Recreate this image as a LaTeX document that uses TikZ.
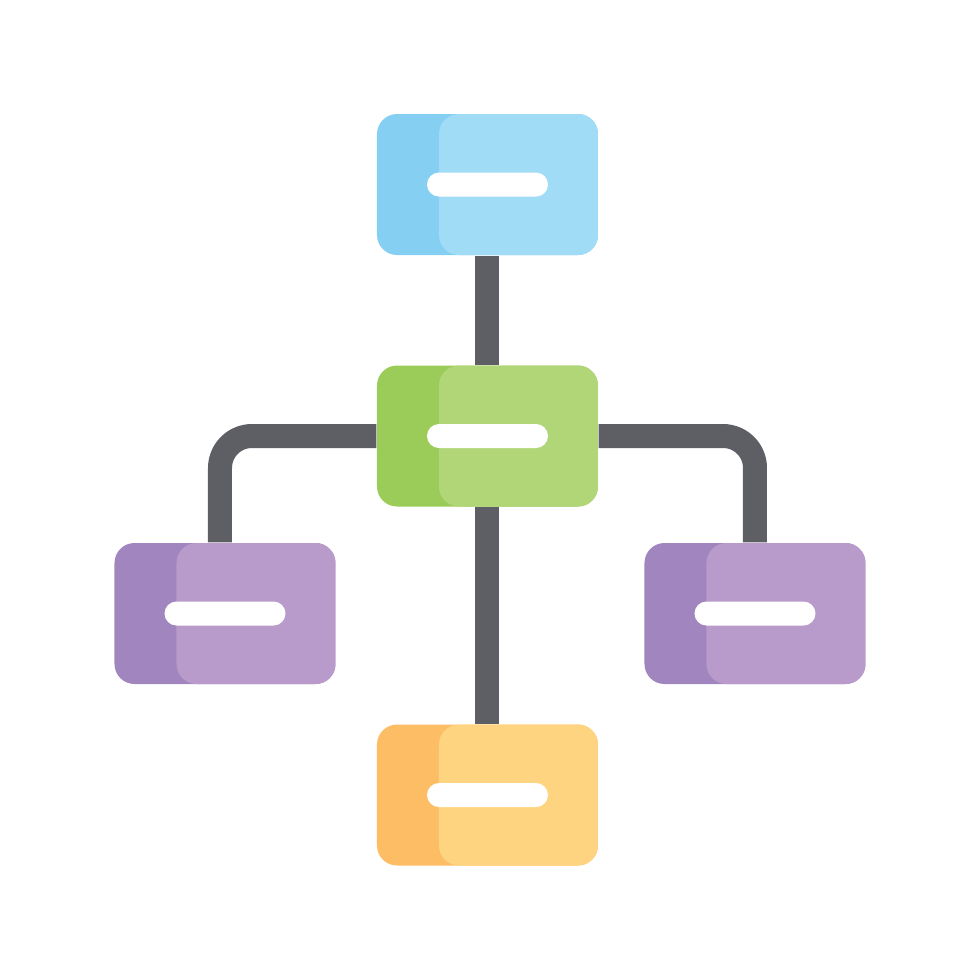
\documentclass[tikz,border=0pt]{standalone}
\usepackage{tikz}
\usepackage{color}
\definecolor{bluedark}{HTML}{85CFF3}
\definecolor{bluelight}{HTML}{A1DCF7}
\definecolor{greendark}{HTML}{9BCB58}
\definecolor{greenlight}{HTML}{B0D677}
\definecolor{purpledark}{HTML}{A185BE}
\definecolor{purplelight}{HTML}{B89BCB}
\definecolor{orangedark}{HTML}{FDBD65}
\definecolor{orangelight}{HTML}{FED480}
\definecolor{linkgray}{HTML}{5E5F65}
\tikzset{
  block/.style 2 args = {rectangle, rounded corners=0.2cm, fill=#1,
    minimum width=2.21cm, minimum height=1.41cm, inner sep=0pt,
    path picture={
      \fill[#2, rounded corners=0.2cm]
        ([xshift=0.62cm]path picture bounding box.south west) rectangle
        ([xshift=0.3cm]path picture bounding box.north east);% partie claire
      \fill[white, rounded corners=0.12cm]
        ([shift={(-0.605cm,-0.12cm)}]path picture bounding box.center) rectangle
        ([shift={(0.605cm,0.12cm)}]path picture bounding box.center);% barre
    }},
  link/.style = {draw=linkgray, line width=0.24cm, rounded corners=0.32cm},
}

\begin{document}
\begin{tikzpicture}
\useasboundingbox (0,0) rectangle (9.8,-9.8);
\node [block={bluedark}{bluelight}] (top) at (4.875,-1.845) {};
\node [block={greendark}{greenlight}] (mid) at (4.875,-4.36) {};
\node [block={purpledark}{purplelight}] (left) at (2.25,-6.135) {};
\node [block={purpledark}{purplelight}] (right) at (7.55,-6.135) {};
\node [block={orangedark}{orangelight}] (bottom) at (4.875,-7.95) {};

\draw [link] (top) -- (mid);
\draw [link] (mid) -- (bottom);
\draw [link] (mid.west) -| ([xshift=-0.05cm]left.north);
\draw [link] (mid.east) -| (right.north);
\end{tikzpicture}
\end{document}
